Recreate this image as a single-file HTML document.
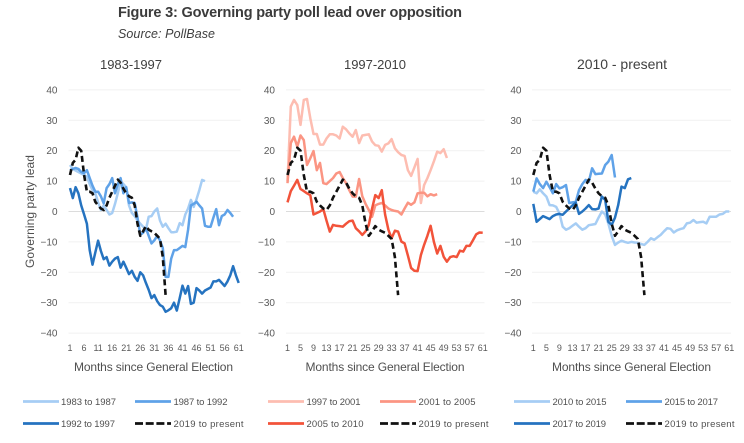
<!DOCTYPE html>
<html lang="en">
<head>
<meta charset="utf-8">
<title>Governing party poll lead over opposition</title>
<style>
html,body{margin:0;padding:0;background:#fff;width:744px;height:443px;overflow:hidden}
svg{display:block;font-family:"Liberation Sans",sans-serif}
</style>
</head>
<body>
<svg id="chart" width="744" height="443" viewBox="0 0 744 443" xmlns="http://www.w3.org/2000/svg">
  <text x="118" y="17" font-size="14.5" font-weight="700" fill="#3b3b3b" textLength="344" lengthAdjust="spacing">Figure 3: Governing party poll lead over opposition</text>
  <text x="118" y="38" font-size="12.5" font-style="italic" fill="#404040" textLength="97" lengthAdjust="spacing">Source: PollBase</text>
  <text x="100" y="69" font-size="13" fill="#404040" textLength="62" lengthAdjust="spacing">1983-1997</text>
  <text x="344" y="69" font-size="13" fill="#404040" textLength="62" lengthAdjust="spacing">1997-2010</text>
  <text x="577" y="69" font-size="14" fill="#404040" textLength="90" lengthAdjust="spacing">2010 - present</text>
  <text transform="translate(34,268) rotate(-90)" font-size="12" fill="#505050" textLength="113" lengthAdjust="spacing">Governing party lead</text>
  <text x="74" y="371" font-size="12" fill="#505050" textLength="159" lengthAdjust="spacing">Months since General Election</text>
  <text x="305.500" y="371" font-size="12" fill="#505050" textLength="159" lengthAdjust="spacing">Months since General Election</text>
  <text x="552" y="371" font-size="12" fill="#505050" textLength="159" lengthAdjust="spacing">Months since General Election</text>
  <g id="panels"></g>
  <g font-size="9.500" fill="#505050" stroke-width="2.800">
    <g><line x1="23" y1="401.500" x2="59" y2="401.500" stroke="#a6cdf4"/><text x="61" y="405" textLength="55" lengthAdjust="spacing">1983 to 1987</text></g>
    <g><line x1="135" y1="401.500" x2="171" y2="401.500" stroke="#5fa2e8"/><text x="173.500" y="405" textLength="54" lengthAdjust="spacing">1987 to 1992</text></g>
    <g><line x1="23" y1="423.500" x2="59" y2="423.500" stroke="#2573c0"/><text x="61" y="427" textLength="54" lengthAdjust="spacing">1992 to 1997</text></g>
    <g><line x1="135" y1="423.500" x2="171" y2="423.500" stroke="#111" stroke-dasharray="8 2.700"/><text x="173.500" y="427" textLength="70" lengthAdjust="spacing">2019 to present</text></g>
    <g><line x1="268" y1="401.500" x2="304" y2="401.500" stroke="#fdbdb1"/><text x="306.500" y="405" textLength="54" lengthAdjust="spacing">1997 to 2001</text></g>
    <g><line x1="380" y1="401.500" x2="416" y2="401.500" stroke="#fb9583"/><text x="418.500" y="405" textLength="57" lengthAdjust="spacing">2001 to 2005</text></g>
    <g><line x1="268" y1="423.500" x2="304" y2="423.500" stroke="#f2533a"/><text x="306.500" y="427" textLength="57" lengthAdjust="spacing">2005 to 2010</text></g>
    <g><line x1="380" y1="423.500" x2="416" y2="423.500" stroke="#111" stroke-dasharray="8 2.700"/><text x="418.500" y="427" textLength="70" lengthAdjust="spacing">2019 to present</text></g>
    <g><line x1="514" y1="401.500" x2="550" y2="401.500" stroke="#a6cdf4"/><text x="552.500" y="405" textLength="54" lengthAdjust="spacing">2010 to 2015</text></g>
    <g><line x1="626" y1="401.500" x2="662" y2="401.500" stroke="#5fa2e8"/><text x="664.500" y="405" textLength="53.500" lengthAdjust="spacing">2015 to 2017</text></g>
    <g><line x1="514" y1="423.500" x2="550" y2="423.500" stroke="#2573c0"/><text x="552.500" y="427" textLength="53.500" lengthAdjust="spacing">2017 to 2019</text></g>
    <g><line x1="626" y1="423.500" x2="662" y2="423.500" stroke="#111" stroke-dasharray="8 2.700"/><text x="664.500" y="427" textLength="70" lengthAdjust="spacing">2019 to present</text></g>
  </g>
</svg>
<script>
// Values by month since General Election (index 0 = month 1)
const yTicks = [40, 30, 20, 10, 0, -10, -20, -30, -40];
const monthCount = 61;
const xTickStep1 = 5;
const xTickStep2 = 4;
const xTickStep3 = 4;

const current2019 = [12,16,17,21,20,12,6.5,6.5,6,3.2,2,1,0.5,2,4.5,6.5,8.5,10.5,9.5,7.5,6,5,4.5,2,-4,-8,-6.5,-4.8,-6,-6.5,-7,-8,-9,-15,-27.5];

const s1983to1987 = [15.3,14,13.5,13,12.5,12,11.4,9,7,6,3,0.5,2,0.5,-1,-0.5,2.5,6,10,9,8,2,-0.5,-1.5,-3,-4,-5,-6,-1.7,-1.5,0,1,-3,-5,-4,-5.5,-6.8,-6.8,-6.6,-3.8,-4.5,-1,1,3.8,1.5,4,7,10.4,10];
const s1987to1992 = [13.6,14,14.3,14,13,12.6,13.6,11,8.5,6.5,6.5,5,2.7,7.7,9,11,6,9,11,6,8,2.8,3,2.8,-2,-7.7,-7,-5.5,-8,-10.5,-9.5,-8,-9.5,-12,-21.5,-21.5,-15.5,-12.7,-12.7,-12,-11.3,-11.7,-6,2,2.5,3.2,2,1,-4.7,-5,-5,-2,0.8,-4.5,-1.5,-1,0.5,-0.5,-1.7];
const s1992to1997 = [7.7,4.4,8,6,2,-1,-4,-12.7,-17.5,-13.5,-9.6,-13,-15.7,-15,-17.8,-16.5,-15.5,-15,-18.5,-16.5,-18.5,-20.6,-19.5,-21.5,-22.8,-20,-21,-23.5,-25.8,-28.5,-27.5,-29.5,-30.8,-31.3,-33,-32.5,-31.8,-30,-32.6,-28.5,-24.4,-27,-24.5,-30.4,-30,-25.2,-26,-27,-26,-25.5,-25,-23,-23,-22.5,-23.5,-24.5,-23,-21,-18,-21,-23.5];

const s1997to2001 = [10,34.5,36.7,35,28.5,36.7,37,30.7,25.5,25.5,22,22,24,25.4,25.4,25,24,27.9,27,25.7,24.6,26.8,22.5,25,25.2,25.4,23,21.8,21.6,19.7,21.9,22.4,23.8,20.8,19.5,18.6,18.3,13.6,11.7,14.5,17.3,2.8,8.7,11,13.6,16.5,19.7,19.2,20.5,17.6];
const s2001to2005 = [9.3,22.5,24.6,21.3,25,23.5,15.3,17.5,19.9,13.6,16,9.3,9,10,11,12.5,13,11,9.3,7,4.9,4.9,10.7,5,2.5,0.5,-1.7,2,2.5,2.8,2,1,0.5,0.2,0,-1,1,2.9,2.2,3,6,6.2,6.2,5,5.7,5.3,5.7];
const s2005to2010 = [3,6.7,8.5,10.4,7.4,6.7,6,5.4,-1,-0.5,0,0.8,-3,-6.6,-4.4,-4.7,-4.8,-5,-4,-3.2,-3,-5.5,-6.5,-7.7,-6.5,-4.4,1,5.4,4.4,7,-1,-6,-8.8,-6.3,-6.6,-9.9,-10.5,-14.5,-18.6,-19.5,-19.6,-14.3,-11,-8,-4.7,-10,-13.8,-11.3,-14.9,-16.5,-15,-14.7,-15,-12.9,-13.2,-11.3,-11.3,-9.5,-7.5,-6.9,-7];

const s2010to2015 = [6.5,6,7.3,6,4.9,2.1,2,1.5,-0.6,-5,-6,-5.5,-4.7,-3.9,-5,-6,-5.5,-4.5,-4.3,-4.1,-2,0,-1,-4,-8,-11,-10.2,-9.6,-10,-10.3,-10,-10.2,-10.3,-10.7,-11,-10,-8.8,-9.3,-8.5,-7.7,-6.5,-5.5,-5.7,-6.9,-6.2,-5.8,-5.5,-3.9,-3.7,-2.8,-3.7,-3.5,-3.4,-3.9,-1.7,-1.7,-1.7,-1,-0.8,0,0];
const s2015to2017 = [6.5,10.9,9,7.7,9.8,8,6,9,7.6,8,8.7,2.8,3,3.2,7,9,10.4,9.8,14.2,12.3,12.4,12.5,15.3,16.4,18.6,11.2];
const s2017to2019 = [2.5,-3.4,-2.5,-1.5,-2,-2.5,-1.5,-1,-0.8,-1.1,0,1,2,2.9,-0.8,0,1,2.1,0.8,0.7,1,4.9,3.8,-3.4,-4.4,-2,2.1,8.2,7.7,10.6,11];

const SVG_NS = 'http://www.w3.org/2000/svg';
const root = document.getElementById('panels');

function yScale(v) { return 211.5 - v * 3.04; }
function xScaleFor(firstX, lastX) {
  return function (month) { return firstX + (month - 1) * (lastX - firstX) / (monthCount - 1); };
}

function drawAxes(panelName, x, gridLeft, gridRight, labelRight, tickStep) {
  yTicks.forEach(function (v) {
    const grid = document.createElementNS(SVG_NS, 'line');
    
    
    grid.setAttribute('x1', gridLeft);
    grid.setAttribute('x2', gridRight);
    grid.setAttribute('y1', yScale(v));
    grid.setAttribute('y2', yScale(v));
    grid.setAttribute('stroke', v === 0 ? '#dcdcdc' : '#f1f1f1');
    grid.setAttribute('stroke-width', '1');
    root.appendChild(grid);

    const label = document.createElementNS(SVG_NS, 'text');
    
    
    label.setAttribute('x', labelRight);
    label.setAttribute('y', yScale(v) + 3.5);
    label.setAttribute('text-anchor', 'end');
    label.setAttribute('font-size', '10');
    label.setAttribute('fill', '#595959');
    label.textContent = v < 0 ? '\u2212' + Math.abs(v) : String(v);
    root.appendChild(label);
  });
  for (let m = 1; m <= monthCount; m += tickStep) {
    const tick = document.createElementNS(SVG_NS, 'text');
    
    
    tick.setAttribute('x', x(m));
    tick.setAttribute('y', 351);
    tick.setAttribute('text-anchor', 'middle');
    tick.setAttribute('font-size', '9');
    tick.setAttribute('fill', '#595959');
    tick.textContent = String(m);
    root.appendChild(tick);
  }
}

function drawSeries(seriesName, values, x, colour, dashed) {
  const line = document.createElementNS(SVG_NS, 'polyline');
  
  
  line.setAttribute('points', values.map(function (v, i) {
    return x(i + 1).toFixed(1) + ',' + yScale(v).toFixed(1);
  }).join(' '));
  line.setAttribute('fill', 'none');
  line.setAttribute('stroke', colour);
  line.setAttribute('stroke-width', dashed ? '2.6' : '2.5');
  line.setAttribute('stroke-linejoin', 'round');
  if (dashed) {
    line.setAttribute('stroke-dasharray', '6 3.6');
  }
  root.appendChild(line);
}

const x1 = xScaleFor(70, 238.7);
const x2 = xScaleFor(287.5, 482.7);
const x3 = xScaleFor(533.3, 729.3);

drawAxes('panel-1983-1997', x1, 68.5, 240.5, 57.5, xTickStep1);
drawAxes('panel-1997-2010', x2, 286, 484.5, 275, xTickStep2);
drawAxes('panel-2010-present', x3, 532, 731, 521.5, xTickStep3);

drawSeries('line-1983-to-1987', s1983to1987, x1, '#a6cdf4', false);
drawSeries('line-1987-to-1992', s1987to1992, x1, '#5fa2e8', false);
drawSeries('line-1992-to-1997', s1992to1997, x1, '#2573c0', false);
drawSeries('line-2019-to-present-panel-1', current2019, x1, '#111111', true);

drawSeries('line-1997-to-2001', s1997to2001, x2, '#fdbdb1', false);
drawSeries('line-2001-to-2005', s2001to2005, x2, '#fb9583', false);
drawSeries('line-2005-to-2010', s2005to2010, x2, '#f2533a', false);
drawSeries('line-2019-to-present-panel-2', current2019, x2, '#111111', true);

drawSeries('line-2010-to-2015', s2010to2015, x3, '#a6cdf4', false);
drawSeries('line-2015-to-2017', s2015to2017, x3, '#5fa2e8', false);
drawSeries('line-2017-to-2019', s2017to2019, x3, '#2573c0', false);
drawSeries('line-2019-to-present-panel-3', current2019, x3, '#111111', true);
</script>
</body>
</html>
